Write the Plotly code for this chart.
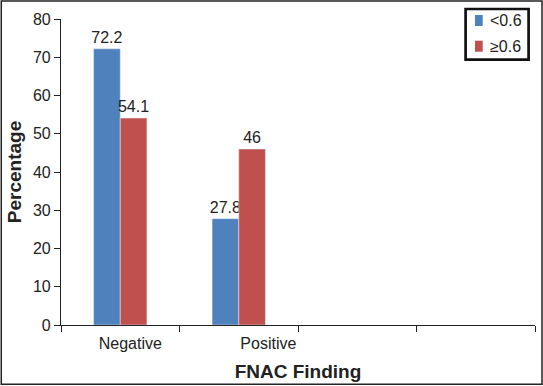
import plotly.graph_objects as go

categories = ["Negative", "Positive"]
series_names = ["<0.6", "\u22650.6"]
values_low = [72.2, 27.8]
values_high = [54.1, 46]
value_text_low = ["72.2", "27.8"]
value_text_high = ["54.1", "46"]
colors = ["#4F81BD", "#C0504D"]

x_pos = list(range(len(categories)))
n_slots = 4  # the axis shows four category slots, two of them empty
label_offsets = [0.085, 0.25]  # tick labels sit right of the category centres

font = dict(family="Liberation Sans, Arial, sans-serif", size=16, color="#222222")

fig = go.Figure()
fig.add_trace(go.Bar(
    x=x_pos, y=values_low, name=series_names[0], marker_color=colors[0],
    text=value_text_low, textposition="outside", cliponaxis=False,
    constraintext="none", textfont=font,
))
fig.add_trace(go.Bar(
    x=x_pos, y=values_high, name=series_names[1], marker_color=colors[1],
    text=value_text_high, textposition="outside", cliponaxis=False,
    constraintext="none", textfont=font,
))

# Boxed legend drawn in the top-right corner (paper coordinates)
legend_box = dict(x0=0.8536, x1=0.9865, y0=0.867, y1=1.0327)
key_x = (0.8734, 0.8897)
key_y = [(0.9771, 1.0131), (0.8931, 0.9291)]
label_x = 0.9015
label_y = [0.9935, 0.9101]

shapes = [dict(
    type="rect", xref="paper", yref="paper",
    x0=-0.126, x1=1.0148, y0=-0.194, y1=1.059,
    line=dict(color="#222222", width=1.5), fillcolor="rgba(0,0,0,0)",
    layer="above",
), dict(
    type="rect", xref="paper", yref="paper", **legend_box,
    line=dict(color="#111111", width=2.7), fillcolor="white", layer="above",
)]
annotations = []
for name, color, (ky0, ky1), ly in zip(series_names, colors, key_y, label_y):
    shapes.append(dict(
        type="rect", xref="paper", yref="paper",
        x0=key_x[0], x1=key_x[1], y0=ky0, y1=ky1,
        line=dict(width=0), fillcolor=color, layer="above",
    ))
    annotations.append(dict(
        text=name, xref="paper", yref="paper", x=label_x, y=ly,
        xanchor="left", yanchor="middle", showarrow=False, font=font,
    ))

fig.update_layout(
    width=543, height=386,
    margin=dict(l=61, r=8, t=19, b=61, autoexpand=False),
    paper_bgcolor="white", plot_bgcolor="white",
    font=font,
    barmode="group", bargap=0.55, bargroupgap=0,
    showlegend=False,
    xaxis=dict(
        range=[-0.5, n_slots - 0.5], automargin=False,
        tickvals=[x + o for x, o in zip(x_pos, label_offsets)],
        ticktext=categories,
        ticks="", showline=True, linecolor="#222222", linewidth=1.2,
        showgrid=False, zeroline=False, ticklabelstandoff=4,
        minor=dict(ticks="outside", ticklen=6, tick0=-0.5, dtick=1,
                   tickcolor="#222222", showgrid=False),
        title=dict(text="<b>FNAC Finding</b>", standoff=13),
        tickfont=font,
    ),
    yaxis=dict(
        range=[0, 80], dtick=10, ticks="outside", ticklen=6, automargin=False,
        tickcolor="#222222", showline=True, linecolor="#222222", linewidth=1.2,
        showgrid=False, zeroline=False,
        title=dict(text="<b>Percentage</b>", standoff=6),
        tickfont=font,
    ),
    shapes=shapes,
    annotations=annotations,
)

fig.write_html(
    "out.html",
    config={"displayModeBar": False},
    post_script="document.body.style.margin='0px';document.body.style.overflow='hidden';",
)
